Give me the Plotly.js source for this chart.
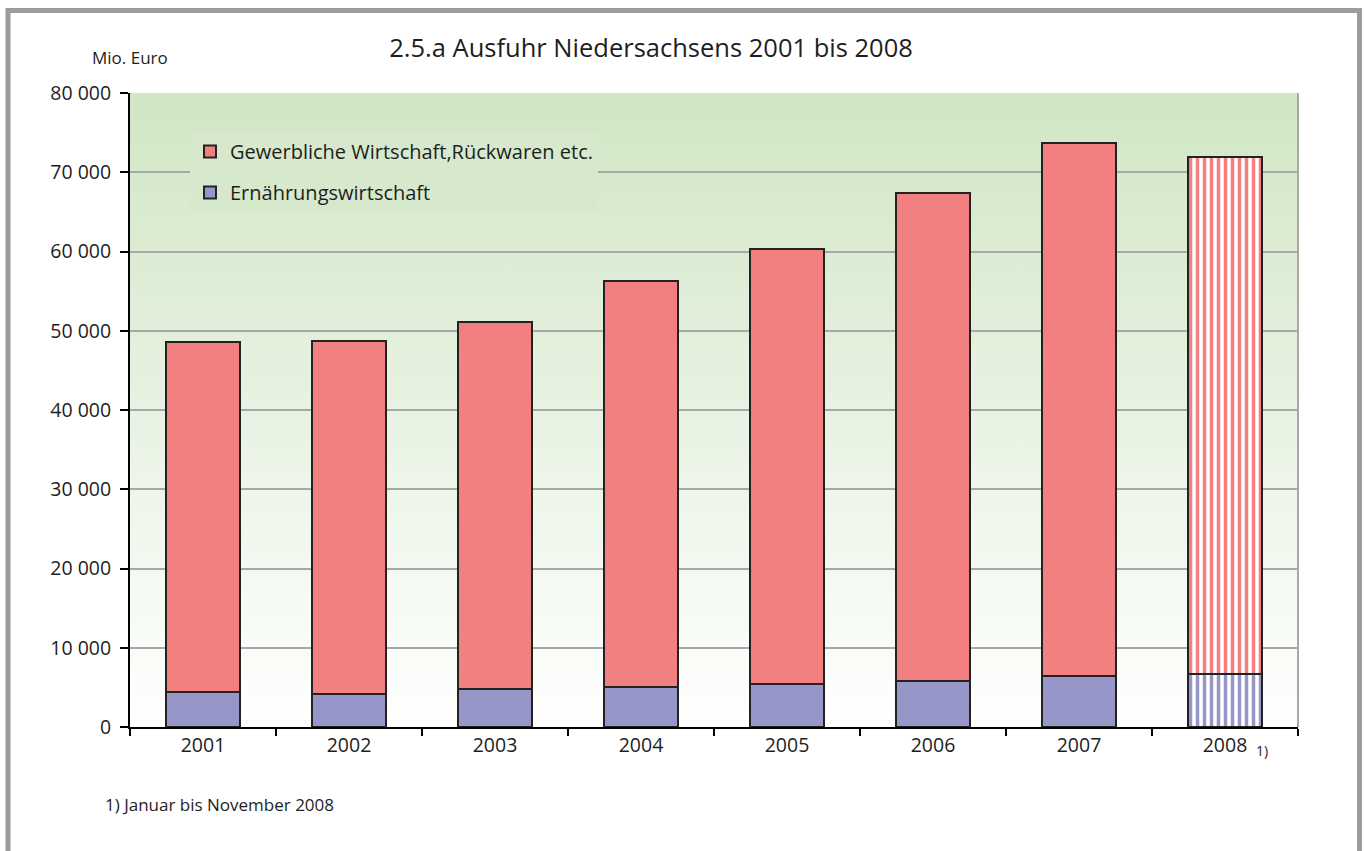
<!DOCTYPE html>
<html>
<head>
<meta charset="utf-8">
<script src="https://cdn.plot.ly/plotly-3.0.1.min.js"></script>
<style>
  html, body { margin: 0; padding: 0; background: #ffffff; }
  #chart { width: 1365px; height: 851px; }
</style>
</head>
<body>
<div id="chart"></div>
<script>
// ---- data (Mio. Euro) ----
const years = ['2001', '2002', '2003', '2004', '2005', '2006', '2007', '2008'];
const tickLabels = ['2001', '2002', '2003', '2004', '2005', '2006', '2007', '2008'];
const ernaehrung = [4370, 4120, 4800, 5010, 5390, 5800, 6430, 6650];
const gewerblich = [44170, 44620, 46340, 51270, 54930, 61540, 67220, 65270];
const patternShapes = ['', '', '', '', '', '', '', '|'];

const seriesNames = ['Ernährungswirtschaft', 'Gewerbliche Wirtschaft,Rückwaren etc.'];
const colRed = '#f28080';
const colBlue = '#9696c9';
const outline = '#222222';
const fontFam = '"Open Sans", "Noto Sans", "DejaVu Sans", sans-serif';

const traces = [
  {
    type: 'bar', name: seriesNames[0], x: years, y: ernaehrung,
    legendgroup: 'a', legendrank: 2,
    marker: {
      color: colBlue,
      line: { color: outline, width: 2 },
      pattern: { shape: patternShapes, fgcolor: colBlue, bgcolor: '#ffffff', size: 7, solidity: 0.5 }
    },
    hoverinfo: 'x+y'
  },
  {
    type: 'bar', name: seriesNames[1], x: years, y: gewerblich,
    legendgroup: 'b', legendrank: 1,
    marker: {
      color: colRed,
      line: { color: outline, width: 2 },
      pattern: { shape: patternShapes, fgcolor: colRed, bgcolor: '#ffffff', size: 7, solidity: 0.5 }
    },
    hoverinfo: 'x+y'
  }
];

const W = 1365, H = 851;
const mL = 130, mR = 67, mT = 93, mB = 124;
const pw = W - mL - mR, ph = H - mT - mB;
const px = (x) => (x - mL) / pw;
const py = (y) => (H - mB - y) / ph;

const gradSvg = '<svg xmlns="http://www.w3.org/2000/svg" width="100" height="100" preserveAspectRatio="none">' +
  '<defs><linearGradient id="g" x1="0" y1="0" x2="0" y2="1">' +
  '<stop offset="0" stop-color="#d0e6c5"/><stop offset="1" stop-color="#ffffff"/>' +
  '</linearGradient></defs><rect width="100" height="100" fill="url(#g)"/></svg>';
const gradUri = 'data:image/svg+xml;base64,' + btoa(gradSvg);

const layout = {
  width: W, height: H,
  margin: { l: mL, r: mR, t: mT, b: mB },
  paper_bgcolor: '#ffffff',
  plot_bgcolor: 'rgba(0,0,0,0)',
  separators: ', ',
  font: { family: fontFam, color: '#1e1e1e', size: 19 },
  barmode: 'stack',
  bargap: 0.49,
  title: {
    text: '2.5.a Ausfuhr Niedersachsens 2001 bis 2008',
    font: { family: fontFam, size: 25.5, color: '#1e1e1e' },
    xref: 'container', x: 651 / W, xanchor: 'center',
    yref: 'container', y: 1 - 48 / H, yanchor: 'middle'
  },
  xaxis: {
    type: 'category',
    tickvals: years, ticktext: tickLabels,
    showline: true, linecolor: '#000000', linewidth: 2,
    ticks: 'outside', tickson: 'boundaries', ticklen: 7, tickwidth: 2, tickcolor: '#000000',
    showgrid: false, zeroline: false,
    tickfont: { size: 19.5, color: '#1e1e1e' }
  },
  yaxis: {
    range: [0, 80000],
    tickvals: [0, 10000, 20000, 30000, 40000, 50000, 60000, 70000, 80000],
    tickformat: ',d',
    showline: true, linecolor: '#000000', linewidth: 2,
    ticks: 'outside', ticklen: 8, tickwidth: 2, tickcolor: '#000000',
    ticklabelstandoff: 5,
    showgrid: true, gridcolor: '#a8a8a8', gridwidth: 2,
    zeroline: false,
    tickfont: { size: 19.5, color: '#1e1e1e' }
  },
  legend: {
    x: px(190), y: py(132), xanchor: 'left', yanchor: 'top',
    bgcolor: '#d6e9cc', borderwidth: 0,
    font: { size: 20, color: '#1e1e1e' },
    traceorder: 'grouped',
    tracegroupgap: 12,
    itemclick: false
  },
  images: [{
    source: gradUri, xref: 'paper', yref: 'paper',
    x: 0, y: 1, sizex: 1, sizey: 1, sizing: 'stretch',
    xanchor: 'left', yanchor: 'top', layer: 'below'
  }],
  shapes: [
    { type: 'line', xref: 'paper', yref: 'paper', x0: 1, x1: 1, y0: 0, y1: 1,
      line: { color: '#a8a8a8', width: 2 } },
    { type: 'rect', xref: 'paper', yref: 'paper',
      x0: px(8), x1: px(1359.5), y0: py(870), y1: py(10.5),
      line: { color: '#9c9c9c', width: 5 }, fillcolor: 'rgba(0,0,0,0)' }
  ],
  annotations: [
    { text: 'Mio. Euro', xref: 'paper', yref: 'paper', x: px(130), y: py(58),
      xanchor: 'center', yanchor: 'middle', showarrow: false,
      font: { size: 17, color: '#1e1e1e' } },
    { text: '1)', xref: 'paper', yref: 'paper', x: px(1254), y: py(750),
      xanchor: 'left', yanchor: 'middle', showarrow: false,
      font: { size: 14, color: '#1e1e1e' } },
    { text: '1) Januar bis November 2008', xref: 'paper', yref: 'paper', x: px(103), y: py(805),
      xanchor: 'left', yanchor: 'middle', showarrow: false,
      font: { size: 17, color: '#1e1e1e' } }
  ]
};

Plotly.newPlot('chart', traces, layout, { displayModeBar: false, staticPlot: true });
</script>
</body>
</html>
